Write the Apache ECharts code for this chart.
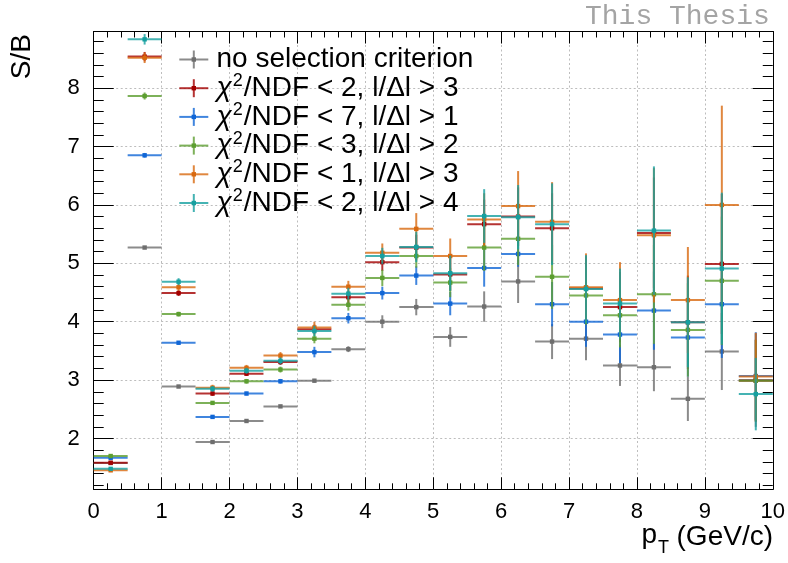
<!DOCTYPE html>
<html><head><meta charset="utf-8">
<script src="https://cdn.jsdelivr.net/npm/echarts@6/dist/echarts.min.js"></script>
<style>html,body{margin:0;padding:0;background:#fff}#c{width:788px;height:563px}</style>
</head><body><div id="c"></div>
<script>
// ---- data ----
const binCenters = [0.25,0.75,1.25,1.75,2.25,2.75,3.25,3.75,4.25,4.75,5.25,5.75,6.25,6.75,7.25,7.75,8.25,8.75,9.25,9.75];
const binHalfWidth = 0.25;
const seriesNames = [
  'no selection criterion',
  'χ2/NDF < 2, l/Δl > 3',
  'χ2/NDF < 7, l/Δl > 1',
  'χ2/NDF < 3, l/Δl > 2',
  'χ2/NDF < 1, l/Δl > 3',
  'χ2/NDF < 2, l/Δl > 4'
];
const legendRest = ['no selection criterion','/NDF < 2, l/Δl > 3','/NDF < 7, l/Δl > 1','/NDF < 3, l/Δl > 2','/NDF < 1, l/Δl > 3','/NDF < 2, l/Δl > 4'];
const seriesColors = ['#6e6e6e','#a30000','#1066d6','#5c9e30','#d8690f','#16a0a0'];

const noSelVal = [1.58,5.27,2.89,1.94,2.30,2.55,2.99,3.53,4.00,4.25,3.74,4.26,4.69,3.66,3.71,3.25,3.22,2.68,3.49,3.00];
const noSelErr = [0.01,0.02,0.02,0.02,0.02,0.02,0.03,0.05,0.11,0.14,0.17,0.26,0.37,0.30,0.37,0.35,0.41,0.38,0.66,0.80];
const chi2l3Val = [1.585,8.54,4.49,2.77,3.11,3.31,3.87,4.42,5.02,5.27,4.81,5.67,5.80,5.60,4.57,4.25,5.52,3.99,4.99,2.99];
const chi2l3Err = [0.02,0.08,0.05,0.04,0.04,0.05,0.08,0.10,0.15,0.22,0.28,0.42,0.50,0.60,0.55,0.60,0.95,0.80,1.20,0.70];
const chi7l1Val = [1.67,6.85,3.64,2.37,2.77,2.98,3.48,4.06,4.49,4.79,4.31,4.92,5.16,4.30,4.00,3.78,4.19,3.73,4.30,3.07];
const chi7l1Err = [0.01,0.04,0.03,0.03,0.03,0.04,0.09,0.09,0.11,0.16,0.20,0.32,0.22,0.38,0.43,0.49,0.67,0.67,0.92,0.75];
const chi3l2Val = [1.70,7.865,4.13,2.61,2.98,3.18,3.71,4.29,4.75,5.125,4.67,5.27,5.42,4.77,4.45,4.11,4.47,3.86,4.70,2.99];
const chi3l2Err = [0.02,0.06,0.04,0.03,0.04,0.05,0.08,0.10,0.14,0.20,0.25,0.40,0.45,0.55,0.50,0.55,0.85,0.80,1.10,0.70];
const chi1l3Val = [1.455,8.52,4.59,2.87,3.21,3.42,3.90,4.60,5.18,5.59,5.125,5.75,5.98,5.71,4.59,4.37,5.48,4.37,6.00,3.06];
const chi1l3Err = [0.02,0.09,0.06,0.05,0.05,0.06,0.10,0.10,0.16,0.27,0.30,0.45,0.60,0.68,0.58,0.65,1.15,0.91,1.70,0.75];
const chi2l4Val = [1.48,8.836,4.685,2.85,3.16,3.33,3.84,4.48,5.125,5.28,4.83,5.81,5.79,5.67,4.56,4.31,5.56,3.99,4.91,2.76];
const chi2l4Err = [0.02,0.09,0.06,0.05,0.05,0.06,0.09,0.10,0.14,0.26,0.30,0.46,0.55,0.70,0.58,0.60,1.10,0.77,1.30,0.62];

const allVals = [noSelVal, chi2l3Val, chi7l1Val, chi3l2Val, chi1l3Val, chi2l4Val];
const allErrs = [noSelErr, chi2l3Err, chi7l1Err, chi3l2Err, chi1l3Err, chi2l4Err];

const xTickLabels = ['0','1','2','3','4','5','6','7','8','9','10'];

// ---- chart ----
const FONT = "'Liberation Sans', Arial, Helvetica, sans-serif";
const chart = echarts.init(document.getElementById('c'), null, {renderer:'canvas'});

function renderErr(params, api) {
  const x = api.value(0), y = api.value(1), e = api.value(2);
  const pL = api.coord([x - binHalfWidth, y]);
  const pR = api.coord([x + binHalfWidth, y]);
  const pT = api.coord([x, y + e]);
  const pB = api.coord([x, y - e]);
  const c = api.visual('color');
  const m = 2.2;
  return {type:'group', children:[
    {type:'line', shape:{x1:pL[0],y1:pL[1],x2:pR[0],y2:pR[1]}, style:{stroke:c, lineWidth:2, opacity:0.8}},
    {type:'line', shape:{x1:pT[0],y1:pT[1],x2:pB[0],y2:pB[1]}, style:{stroke:c, lineWidth:2, opacity:0.8}},
    {type:'rect', shape:{x:pL[0]+(pR[0]-pL[0])/2-m, y:pL[1]-m, width:2*m, height:2*m}, style:{fill:c}}
  ]};
}

const series = allVals.map((vals, i) => ({
  type:'custom',
  name: seriesNames[i],
  renderItem: renderErr,
  itemStyle:{color: seriesColors[i]},
  encode:{x:0, y:1},
  dimensions:['x','y','err'],
  data: binCenters.map((xc, j) => [xc, vals[j], allErrs[i][j]]),
  z: 2 + i
}));

const axisLineStyle = {color:'#000', width:1};
const gridDots = {show:true, lineStyle:{color:'#bdbdbd', width:1, type:[2,2.5]}};

// legend drawn as graphic elements
const legendX0 = 179.3, legendX1 = 208.3, legendTextX = 216.5, legendY0 = 59.5, legendDY = 28.7;
const graphics = [];
seriesNames.forEach((n, i) => {
  const cy = legendY0 + i*legendDY, cx = (legendX0+legendX1)/2, c = seriesColors[i];
  graphics.push({type:'line', shape:{x1:legendX0,y1:cy,x2:legendX1,y2:cy}, style:{stroke:c,lineWidth:2,opacity:0.8}, z:100});
  graphics.push({type:'line', shape:{x1:cx,y1:cy-9,x2:cx,y2:cy+9}, style:{stroke:c,lineWidth:2,opacity:0.8}, z:100});
  graphics.push({type:'rect', shape:{x:cx-2.2,y:cy-2.2,width:4.4,height:4.4}, style:{fill:c}, z:101});
  let txt;
  if (i === 0) {
    txt = '{t|' + legendRest[i] + '}';
  } else {
    txt = '{chi|χ}{sup|2}{t|' + legendRest[i] + '}';
  }
  const rich = {
    t:{fontSize:28, fontFamily:FONT, fill:'#000', lineHeight:32},
    chi:{fontSize:28, fontFamily:FONT, fontStyle:'italic', fill:'#000', lineHeight:32},
    sup:{fontSize:18, fontFamily:FONT, fill:'#000', verticalAlign:'top', lineHeight:32, padding:[0,1,0,1]}
  };
  graphics.push({type:'text', x:legendTextX, y:cy, style:{text:txt, rich:rich, textVerticalAlign:'middle', textAlign:'left'}, z:100});
});
// axis titles
graphics.push({type:'text', x:22, y:34, rotation:Math.PI/2,
  style:{text:'S/B', fontSize:28, fontFamily:FONT, fill:'#000', textAlign:'right', textVerticalAlign:'middle'}});
graphics.push({type:'text', x:773, y:537,
  style:{text:'(GeV/c)', fontSize:28, fontFamily:FONT, fill:'#000', textAlign:'right', textVerticalAlign:'middle'}});
graphics.push({type:'text', x:669, y:548,
  style:{text:'T', fontSize:18, fontFamily:FONT, fill:'#000', textAlign:'right', textVerticalAlign:'middle'}});
graphics.push({type:'text', x:657, y:535,
  style:{text:'p', fontSize:28, fontFamily:FONT, fill:'#000', textAlign:'right', textVerticalAlign:'middle'}});
graphics.push({type:'text', x:585, y:17,
  style:{text:'This Thesis', fontSize:28, fontFamily:"'Liberation Mono', 'DejaVu Sans Mono', monospace", fill:'#a4a4a4', textAlign:'left', textVerticalAlign:'middle'}});

const option = {
  animation:false,
  backgroundColor:'#fff',
  grid:{left:93.7, right:13.7, top:31.5, bottom:73.7, containLabel:false},
  xAxis:[
    {type:'value', min:0, max:10, interval:1, position:'bottom',
     axisLine:{show:true, onZero:false, lineStyle:axisLineStyle},
     axisTick:{show:true, inside:true, length:12, lineStyle:axisLineStyle},
     minorTick:{show:true, splitNumber:5, length:6, lineStyle:axisLineStyle},
     axisLabel:{show:true, fontSize:22, fontFamily:FONT, color:'#000', margin:12,
       formatter:(v)=>xTickLabels[Math.round(v)]},
     splitLine:gridDots},
    {type:'value', min:0, max:10, interval:1, position:'top',
     axisLine:{show:true, onZero:false, lineStyle:axisLineStyle},
     axisTick:{show:true, inside:true, length:12, lineStyle:axisLineStyle},
     minorTick:{show:true, splitNumber:5, length:6, lineStyle:axisLineStyle},
     axisLabel:{show:false}, splitLine:{show:false}}
  ],
  yAxis:[
    {type:'value', min:1.13, max:8.97, splitNumber:7, position:'left',
     axisLine:{show:true, onZero:false, lineStyle:axisLineStyle},
     axisTick:{show:true, inside:true, length:20, lineStyle:axisLineStyle},
     minorTick:{show:true, splitNumber:5, length:10, lineStyle:axisLineStyle},
     axisLabel:{show:true, fontSize:22, fontFamily:FONT, color:'#000', margin:14, showMinLabel:false, showMaxLabel:false},
     splitLine:gridDots},
    {type:'value', min:1.13, max:8.97, splitNumber:7, position:'right',
     axisLine:{show:true, onZero:false, lineStyle:axisLineStyle},
     axisTick:{show:true, inside:true, length:20, lineStyle:axisLineStyle},
     minorTick:{show:true, splitNumber:5, length:10, lineStyle:axisLineStyle},
     axisLabel:{show:false}, splitLine:{show:false}}
  ],
  graphic: graphics,
  series: series
};
chart.setOption(option);
</script>
</body></html>
